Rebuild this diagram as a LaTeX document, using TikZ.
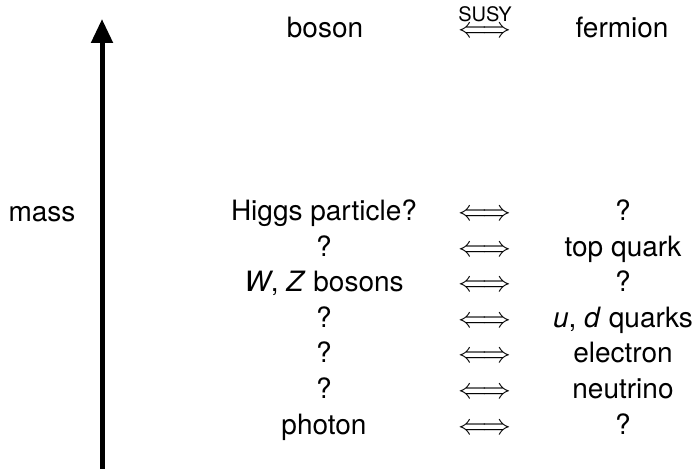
\documentclass[tikz,border=0pt]{standalone}
\usepackage{fontspec}
\setmainfont{TeX Gyre Heros}
\usetikzlibrary{arrows.meta}
\tikzset{
  lbl/.style={inner sep=0pt, anchor=base, font=\fontsize{14}{17}\selectfont},
  small/.style={inner sep=0pt, anchor=base, font=\fontsize{10}{12}\selectfont},
  axis/.style={line width=2.5pt, -{Triangle[length=12pt,width=10.5pt]}}
}
\newcommand{\dualarrow}{$\Longleftrightarrow$}
\begin{document}
\begin{tikzpicture}[x=0.5pt,y=-0.5pt]
\useasboundingbox (0,0) rectangle (700,469);

% mass axis
\coordinate (abot) at (102,469);
\coordinate (atop) at (102,19);
\draw[axis] (abot) -- (atop);
\node[lbl] (mass) at (42,222) {mass};

% header
\node[lbl] (boson) at (325,38) {boson};
\node[lbl] (susyarr) at (485,38) {\dualarrow};
\node[small] (susy) at (485,21.5) {SUSY};
\node[lbl] (fermion) at (622,38) {fermion};

% particle pairs
\foreach \i/\b/\f in {0/Higgs particle?/?,
                      1/?/top quark,
                      2/{\textit{W}, \textit{Z} bosons}/?,
                      3/?/{\textit{u}, \textit{d} quarks},
                      4/?/electron,
                      5/?/neutrino,
                      6/photon/?}{
  \node[lbl] (b\i) at (324,221+35.5*\i) {\b};
  \node[lbl] (a\i) at (485,221+35.5*\i) {\dualarrow};
  \node[lbl] (f\i) at (623,221+35.5*\i) {\f};
}
\end{tikzpicture}
\end{document}
